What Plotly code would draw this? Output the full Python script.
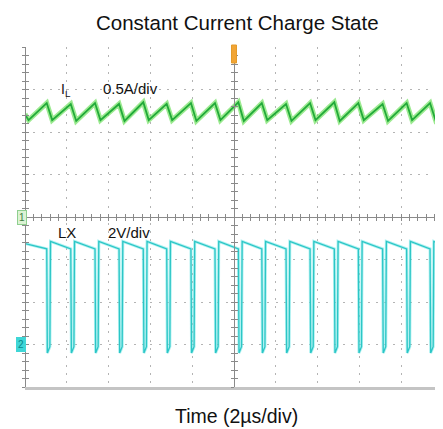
import plotly.graph_objects as go

# ---------------- data ----------------
# time axis: 2 us/div, 10 divisions
time_range_us = [0, 20]

# inductor current IL (A), 0.5 A/div, ground at centre line
il_start_us = [0.0, 0.17]
il_start_a = [1.21, 1.14]
il_peak_us = [1.04, 2.19, 3.35, 4.50, 5.66, 6.78, 7.94, 9.09, 10.21,
              11.33, 12.49, 13.64, 14.80, 15.95, 17.11, 18.26, 19.38]
il_peak_a = [1.34, 1.33, 1.34, 1.33, 1.35, 1.33, 1.34, 1.34, 1.35,
             1.34, 1.33, 1.34, 1.35, 1.34, 1.33, 1.34, 1.34]
il_trough_us = [1.30, 2.45, 3.61, 4.76, 5.92, 7.04, 8.20, 9.35, 10.47,
                11.59, 12.75, 13.90, 15.06, 16.21, 17.37, 18.52, 19.64]
il_trough_a = [1.14, 1.13, 1.14, 1.13, 1.14, 1.14, 1.13, 1.14, 1.13,
               1.14, 1.13, 1.14, 1.13, 1.14, 1.13, 1.14, 1.14]
il_end_us = 20.0
il_end_a = 1.22

# switch node LX (V), 2 V/div, ground 3 div below centre
lx_fall_us = [1.04, 2.19, 3.35, 4.50, 5.66, 6.78, 7.94, 9.09, 10.21,
              11.33, 12.49, 13.64, 14.80, 15.95, 17.11, 18.26, 19.38]
lx_rise_us = [1.22, 2.37, 3.53, 4.68, 5.84, 6.96, 8.12, 9.27, 10.39,
              11.51, 12.67, 13.82, 14.98, 16.13, 17.29, 18.44, 19.56]
lx_low_v = [-0.4] * 17
lx_high_start_v = 4.85
lx_high_end_v = 4.5
lx_start_v = 4.75
lx_end_v = 4.7

# ---------------- build traces ----------------
il_t = list(il_start_us)
il_v = list(il_start_a)
for tp, vp, tt, vt in zip(il_peak_us, il_peak_a, il_trough_us, il_trough_a):
    il_t += [tp, tt]
    il_v += [vp, vt]
il_t.append(il_end_us)
il_v.append(il_end_a)

edge = 0.03
lx_t = [0.0]
lx_v = [lx_start_v]
for tf, tr, lo in zip(lx_fall_us, lx_rise_us, lx_low_v):
    lx_t += [tf, tf + edge, tr - edge, tr]
    lx_v += [lx_high_end_v, lo, lo + 0.3, lx_high_start_v]
lx_t.append(time_range_us[1])
lx_v.append(lx_end_v)

FONT = "Liberation Sans, Arial, sans-serif"
fig = go.Figure()

# glow + core for IL
fig.add_trace(go.Scatter(x=il_t, y=il_v, mode="lines", yaxis="y",
                         line=dict(color="rgba(90,220,70,0.6)", width=5),
                         hoverinfo="skip", showlegend=False))
fig.add_trace(go.Scatter(x=il_t, y=il_v, mode="lines", yaxis="y",
                         line=dict(color="#22aa3a", width=1.8),
                         showlegend=False))
# glow + core for LX
fig.add_trace(go.Scatter(x=lx_t, y=lx_v, mode="lines", yaxis="y2",
                         line=dict(color="rgba(110,230,230,0.55)", width=3),
                         hoverinfo="skip", showlegend=False))
fig.add_trace(go.Scatter(x=lx_t, y=lx_v, mode="lines", yaxis="y2",
                         line=dict(color="#2cc6c6", width=1.3),
                         showlegend=False))

# empty helper traces so the graticule axes get drawn
for xa, ya in [("x2", "y3"), ("x3", "y4"), ("x2", "y5"), ("x3", "y6")]:
    fig.add_trace(go.Scatter(x=[None], y=[None], xaxis=xa, yaxis=ya,
                             mode="lines", hoverinfo="skip",
                             showlegend=False))

grid = dict(showgrid=True, gridcolor="#b4b4b4", gridwidth=1,
            griddash="2px,6.36px", zeroline=False)
tickc = "#8a8a8a"

center_x = dict(overlaying="x", anchor="free", position=0.5,
                range=time_range_us, showline=True, linecolor=tickc,
                linewidth=1, dtick=0.4, tick0=0, ticklen=3, tickcolor=tickc,
                showticklabels=False, showgrid=False, zeroline=False)
center_y = dict(overlaying="y", anchor="free", position=0.5,
                range=[-2, 2], showline=True, linecolor=tickc,
                linewidth=1, dtick=0.1, tick0=0, ticklen=3, tickcolor=tickc,
                showticklabels=False, showgrid=False, zeroline=False)
left_y = dict(overlaying="y", anchor="free", position=0.0,
              range=[-2, 2], showline=True, linecolor=tickc,
              linewidth=1, dtick=0.1, tick0=0, ticklen=3, tickcolor=tickc,
              showticklabels=False, showgrid=False, zeroline=False)

# page body adds an 8px offset, so the figure is 8px smaller
fig.update_layout(
    width=435, height=421,
    margin=dict(l=17, r=0, t=39, b=42),
    paper_bgcolor="white", plot_bgcolor="white",
    showlegend=False,
    font=dict(family=FONT, color="#111111"),
    xaxis=dict(range=time_range_us, dtick=2, tick0=0, showticklabels=False,
               ticks="", showline=True, linecolor="#c4c4c4", linewidth=3,
               **grid),
    yaxis=dict(range=[-2, 2], dtick=0.5, tick0=0, showticklabels=False,
               ticks="", showline=False, **grid),
    yaxis2=dict(range=[-2, 14], overlaying="y", showgrid=False,
                zeroline=False, showticklabels=False, showline=False),
    xaxis2=dict(center_x, ticks="outside"),
    xaxis3=dict(center_x, ticks="inside"),
    yaxis3=dict(center_y, ticks="outside"),
    yaxis4=dict(center_y, ticks="inside"),
    yaxis5=dict(left_y, ticks="outside"),
    yaxis6=dict(left_y, ticks="inside"),
)

def px_x(px):
    return (px - 25) / 418.0

def px_y(py):
    return (387 - py) / 340.0

ann = [
    dict(text="Constant Current Charge State", x=px_x(237.5), y=px_y(22),
         font=dict(size=20.5)),
    dict(text="Time (2\u00b5s/div)", x=px_x(236.5), y=px_y(415.5),
         font=dict(size=19.5)),
    dict(text="I<sub>L</sub>", x=px_x(59), y=px_y(90), xanchor="left",
         font=dict(size=14)),
    dict(text="0.5A/div", x=px_x(101), y=px_y(88), xanchor="left",
         font=dict(size=15)),
    dict(text="LX", x=px_x(56), y=px_y(232), xanchor="left",
         font=dict(size=15)),
    dict(text="2V/div", x=px_x(106), y=px_y(232), xanchor="left",
         font=dict(size=15)),
]
for a in ann:
    a.setdefault("xanchor", "center")
    fig.add_annotation(xref="paper", yref="paper", yanchor="middle",
                       showarrow=False, **a)

# channel ground markers and trigger marker
fig.add_annotation(xref="paper", yref="y", x=px_x(17), y=0, text="1",
                   showarrow=False, font=dict(size=10, color="#3f7f3f"),
                   bgcolor="#dcf3d4", bordercolor="#8fcf8f", borderwidth=1,
                   borderpad=1)
fig.add_annotation(xref="paper", yref="y2", x=px_x(16), y=0, text="2",
                   showarrow=False, font=dict(size=10, color="#0a8a8a"),
                   bgcolor="#3fd6d6", bordercolor="#3fd6d6", borderwidth=1,
                   borderpad=1)
fig.add_shape(type="rect", xref="x", yref="paper",
              x0=9.88, x1=10.12, y0=px_y(63), y1=px_y(45),
              fillcolor="#f2a534", line=dict(color="#e39a2a", width=1))

fig.write_html("out.html")
